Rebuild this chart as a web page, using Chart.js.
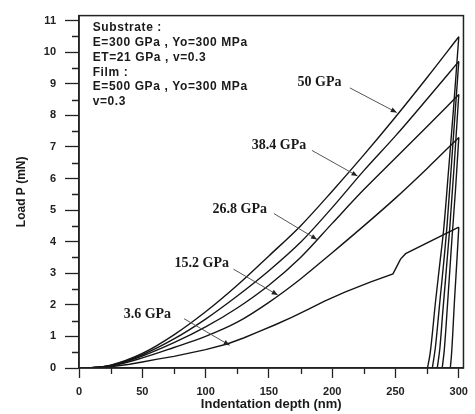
<!DOCTYPE html>
<html lang="en">
<head>
<meta charset="UTF-8">
<title>Load P vs indentation depth</title>
<script src="https://cdn.jsdelivr.net/npm/chart.js"></script>
<style>
  html, body { margin: 0; padding: 0; background: #fff; }
  #wrap { width: 475px; height: 414px; }
</style>
</head>
<body>
<div id="wrap"><canvas id="chartCanvas"></canvas></div>
<script>
// loading branches (depth in nm, load in mN), four stiffest films share one depth grid
const depthGrid = [0, 10, 25, 50, 75, 100, 125, 150, 175, 200, 225, 250, 275, 300];
const load50 = [0, 0.01, 0.09, 0.46, 1.05, 1.78, 2.62, 3.55, 4.5, 5.6, 6.75, 7.95, 9.2, 10.49];
const load38 = [0, 0.01, 0.08, 0.42, 0.92, 1.55, 2.28, 3.08, 3.98, 5.08, 6.25, 7.35, 8.52, 9.71];
const load26 = [0, 0.01, 0.07, 0.38, 0.8, 1.3, 1.9, 2.62, 3.5, 4.58, 5.65, 6.65, 7.65, 8.66];
const load15 = [0, 0.01, 0.06, 0.32, 0.65, 1.0, 1.45, 2.08, 2.82, 3.65, 4.5, 5.38, 6.32, 7.3];
// 3.6 GPa film has its own (rougher) loading trace
const depth3 = [0, 10, 25, 40, 50, 62, 75, 87, 100, 117, 130, 142, 155, 168, 181, 194, 210, 230, 248, 254, 258, 300];
const load3 = [0, 0.005, 0.04, 0.12, 0.19, 0.28, 0.37, 0.47, 0.58, 0.76, 0.95, 1.15, 1.37, 1.6, 1.86, 2.12, 2.4, 2.72, 2.98, 3.45, 3.62, 4.46];

// unloading branches, listed from final depth up to the peak
const unDepth50 = [275.3, 277.5, 281.7, 285, 288.2, 292, 296, 300];
const unLoad50 = [0, 0.5, 2.13, 3.3, 4.45, 6.3, 8.3, 10.49];
const unDepth38 = [279.1, 281.5, 284.8, 290.7, 295, 300];
const unLoad38 = [0, 0.65, 2.0, 4.5, 6.9, 9.71];
const unDepth26 = [283, 285, 287.4, 292.8, 296.5, 300];
const unLoad26 = [0, 0.6, 1.8, 4.4, 6.5, 8.66];
const unDepth15 = [286.9, 288.5, 289.9, 294.6, 297.5, 300];
const unLoad15 = [0, 0.55, 1.3, 4.1, 5.7, 7.3];
const unDepth3 = [293.3, 294.3, 296.7, 298.5, 300];
const unLoad3 = [0, 0.45, 2.2, 3.4, 4.46];

const xTicks = [0, 50, 100, 150, 200, 250, 300];
const yTicks = [0, 1, 2, 3, 4, 5, 6, 7, 8, 9, 10, 11];

const boxLines = ['Substrate :', 'E=300 GPa , Yo=300 MPa', 'ET=21 GPa , v=0.3',
                  'Film :', 'E=500 GPa , Yo=300 MPa', 'v=0.3'];

// callouts: label position and arrow (data units)
const callouts = [
  { text: '50 GPa',   at: [190, 9.06], from: [214, 8.87], to: [251, 8.09] },
  { text: '38.4 GPa', at: [158, 7.05], from: [184, 6.89], to: [220, 6.08] },
  { text: '26.8 GPa', at: [127, 5.02], from: [154, 4.89], to: [188, 4.07] },
  { text: '15.2 GPa', at: [97, 3.32],  from: [122, 3.13], to: [157, 2.31] },
  { text: '3.6 GPa',  at: [54, 1.71],  from: [83, 1.56],  to: [119, 0.72] }
];

function pts(xs, ys) {
  return xs.map((x, i) => ({ x: x, y: ys[i] }));
}

const ink = '#151515';
function curve(data, smooth) {
  return {
    data: data,
    borderColor: ink,
    borderWidth: 1.4,
    pointRadius: 0,
    fill: false,
    cubicInterpolationMode: smooth ? 'monotone' : 'default',
    tension: 0
  };
}

const datasets = [
  curve(pts(depthGrid, load50), true),
  curve(pts(depthGrid, load38), true),
  curve(pts(depthGrid, load26), true),
  curve(pts(depthGrid, load15), true),
  curve(pts(depth3, load3), false),
  curve(pts(unDepth50, unLoad50), true),
  curve(pts(unDepth38, unLoad38), true),
  curve(pts(unDepth26, unLoad26), true),
  curve(pts(unDepth15, unLoad15), true),
  curve(pts(unDepth3, unLoad3), true)
];

const decor = {
  id: 'decor',
  afterDraw(chart) {
    const ctx = chart.ctx;
    const a = chart.chartArea;
    const xs = chart.scales.x, ys = chart.scales.y;
    ctx.save();
    // frame
    ctx.strokeStyle = '#222';
    ctx.lineWidth = 1.5;
    ctx.strokeRect(a.left, a.top, a.right - a.left, a.bottom - a.top);
    // minor ticks
    ctx.lineWidth = 1.3;
    ctx.beginPath();
    for (let v = 0.5; v < 11; v += 1) {
      const py = Math.round(ys.getPixelForValue(v)) + 0.5;
      ctx.moveTo(a.left - 7, py); ctx.lineTo(a.left, py);
    }
    for (let v = 25; v < 300; v += 50) {
      const px = Math.round(xs.getPixelForValue(v)) + 0.5;
      ctx.moveTo(px, a.bottom); ctx.lineTo(px, a.bottom + 6);
    }
    ctx.stroke();

    // parameter box text
    ctx.fillStyle = '#1a1a1a';
    ctx.font = 'bold 12px "Liberation Sans", Arial, sans-serif';
    ctx.letterSpacing = '0.6px';
    ctx.textAlign = 'left';
    ctx.textBaseline = 'middle';
    const bx = xs.getPixelForValue(10.8);
    const by = ys.getPixelForValue(10.77);
    boxLines.forEach((t, i) => ctx.fillText(t, bx, by + i * 14.8));
    ctx.letterSpacing = '0px';

    // callouts
    ctx.font = 'bold 14px "Liberation Serif", "Times New Roman", serif';
    ctx.textAlign = 'center';
    callouts.forEach(c => {
      ctx.fillStyle = '#1a1a1a';
      ctx.fillText(c.text, xs.getPixelForValue(c.at[0]), ys.getPixelForValue(c.at[1]));
      const x0 = xs.getPixelForValue(c.from[0]), y0 = ys.getPixelForValue(c.from[1]);
      const x1 = xs.getPixelForValue(c.to[0]), y1 = ys.getPixelForValue(c.to[1]);
      ctx.strokeStyle = '#555';
      ctx.lineWidth = 1;
      ctx.beginPath(); ctx.moveTo(x0, y0); ctx.lineTo(x1, y1); ctx.stroke();
      const ang = Math.atan2(y1 - y0, x1 - x0);
      ctx.fillStyle = '#222';
      ctx.beginPath();
      ctx.moveTo(x1, y1);
      ctx.lineTo(x1 - 6 * Math.cos(ang) + 2.5 * Math.sin(ang), y1 - 6 * Math.sin(ang) - 2.5 * Math.cos(ang));
      ctx.lineTo(x1 - 6 * Math.cos(ang) - 2.5 * Math.sin(ang), y1 - 6 * Math.sin(ang) + 2.5 * Math.cos(ang));
      ctx.closePath(); ctx.fill();
    });
    ctx.restore();
  }
};

const tickFont = { family: '"Liberation Sans", Arial, sans-serif', size: 11, weight: 'bold' };

new Chart(document.getElementById('chartCanvas'), {
  type: 'line',
  data: { datasets: datasets },
  options: {
    responsive: true,
    maintainAspectRatio: false,
    animation: false,
    layout: { padding: { top: 12, right: 3, left: 0, bottom: 0 } },
    plugins: { legend: { display: false }, tooltip: { enabled: false } },
    scales: {
      x: {
        type: 'linear',
        min: 0,
        max: 303.7,
        afterBuildTicks: s => { s.ticks = xTicks.map(v => ({ value: v })); },
        afterFit: s => { s.height = 46; },
        grid: { drawOnChartArea: false, tickLength: 10, tickWidth: 1.3, tickColor: '#222' },
        border: { color: '#222', width: 1.5 },
        ticks: { font: tickFont, color: '#222', padding: 7, maxRotation: 0 },
        title: {
          display: true,
          text: 'Indentation depth (nm)',
          font: { family: '"Liberation Sans", Arial, sans-serif', size: 13, weight: 'bold' },
          color: '#1a1a1a',
          padding: { top: 0, bottom: 2 }
        }
      },
      y: {
        type: 'linear',
        min: 0,
        max: 11.16,
        afterBuildTicks: s => { s.ticks = yTicks.map(v => ({ value: v })); },
        afterFit: s => { s.width = 79; },
        grid: { drawOnChartArea: false, tickLength: 14, tickWidth: 1.3, tickColor: '#222' },
        border: { color: '#222', width: 1.5 },
        ticks: { font: tickFont, color: '#222', padding: 9 },
        title: {
          display: true,
          text: 'Load P (mN)',
          font: { family: '"Liberation Sans", Arial, sans-serif', size: 12, weight: 'bold' },
          color: '#1a1a1a',
          padding: { top: 14, bottom: 0 }
        }
      }
    }
  },
  plugins: [decor]
});
</script>
</body>
</html>
